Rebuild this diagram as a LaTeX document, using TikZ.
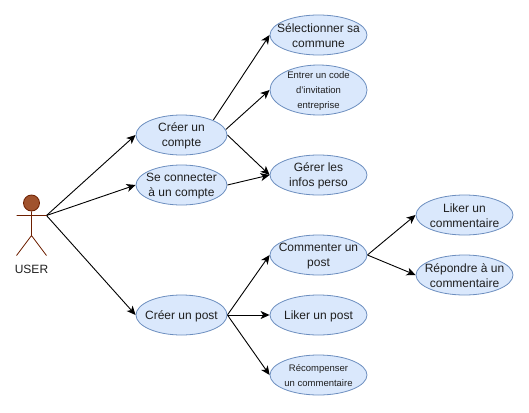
\documentclass[tikz,border=0pt]{standalone}
\usepackage{fontspec}
\setmainfont{Liberation Sans}
\usetikzlibrary{shapes.geometric,arrows.meta,backgrounds}
\definecolor{ucfill}{HTML}{DAE8FC}
\definecolor{ucline}{HTML}{6C8EBF}
\definecolor{acfill}{HTML}{A0522D}
\definecolor{acline}{HTML}{6D1F00}
\tikzset{
  uc/.style={ellipse,draw=ucline,fill=ucfill,line width=0.8pt,inner sep=0pt,minimum width=#1,minimum height=40pt},
  uc/.default=97pt,
  lab/.style={font=\fontsize{12}{15}\selectfont,align=center,inner sep=0pt,text=black!88,yshift=-1pt},
  labs/.style={font=\fontsize{9.5}{15}\selectfont,align=center,inner sep=0pt,text=black!88,yshift=-1pt},
  conn/.style={draw=black,line width=0.9pt,-{Stealth[length=9pt,width=8pt,inset=2.5pt]}},
  limb/.style={draw=acline,line width=0.8pt}
}
\begin{document}
\begin{tikzpicture}[x=1pt,y=-1pt]
\useasboundingbox (0,0) rectangle (529,412);
% actor
\node[circle,draw=acline,fill=acfill,line width=0.8pt,minimum size=16pt,inner sep=0pt] (head) at (31.5,203) {};
\coordinate (hip) at (31.5,235.5);
\coordinate (armL) at (16.5,215.5);
\coordinate (armR) at (46.5,215.5);
\coordinate (legL) at (16.5,255.5);
\coordinate (legR) at (46.5,255.5);
\draw[limb] (head.south) -- (hip) (armL) -- (armR) (legL) -- (hip) -- (legR);
\node[lab] (user) at (31.5,268) {USER};
% use cases
\node[uc=91pt,label={[lab]center:{Créer un\\compte}}] (creer) at (181.5,135) {};
\node[uc=91pt,label={[lab]center:{Se connecter\\à un compte}}] (conn) at (181.5,185) {};
\node[uc=91pt,label={[lab]center:{Créer un post}}] (post) at (181.5,315) {};
\node[uc,label={[lab]center:{Sélectionner sa\\commune}}] (sel) at (318.5,35) {};
\node[uc,minimum height=50pt,label={[labs]center:{Entrer un code\\d'invitation\\entreprise}}] (code) at (318.5,90) {};
\node[uc,label={[lab]center:{Gérer les\\infos perso}}] (infos) at (318.5,175) {};
\node[uc,label={[lab]center:{Commenter un\\post}}] (comm) at (318.5,255) {};
\node[uc,label={[lab]center:{Liker un post}}] (likep) at (318.5,315) {};
\node[uc,label={[labs]center:{Récompenser\\un commentaire}}] (recomp) at (318.5,375) {};
\node[uc,label={[lab]center:{Liker un\\commentaire}}] (likec) at (464.5,215) {};
\node[uc,label={[lab]center:{Répondre à un\\commentaire}}] (rep) at (464.5,275) {};
% connectors
\begin{scope}[on background layer]
\draw[conn] (armR) -- (creer.west);
\draw[conn] (armR) -- (conn.west);
\draw[conn] (armR) -- (post.west);
\draw[conn] (creer.25) -- (sel.west);
\draw[conn] (creer.7) -- (code.west);
\draw[conn] (creer.east) -- (infos.west);
\draw[conn] (conn.east) -- (infos.west);
\draw[conn] (post.east) -- (comm.west);
\draw[conn] (post.east) -- (likep.west);
\draw[conn] (post.east) -- (recomp.west);
\draw[conn] (comm.east) -- (likec.west);
\draw[conn] (comm.east) -- (rep.west);
\end{scope}
\end{tikzpicture}
\end{document}
